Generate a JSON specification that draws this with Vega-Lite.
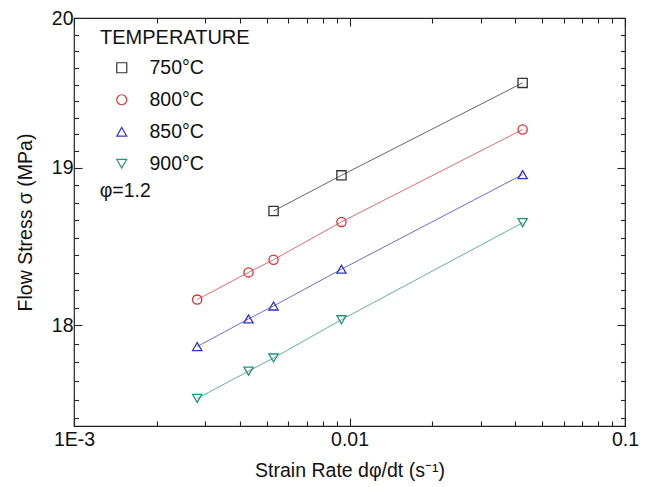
{
  "$schema": "https://vega.github.io/schema/vega-lite/v6.json",
  "width": 551,
  "height": 408,
  "autosize": {"type": "none"},
  "padding": {"left": 74, "top": 18, "right": 24, "bottom": 61},
  "background": "white",
  "config": {
    "font": "Liberation Sans",
    "view": {"stroke": "#222222", "strokeWidth": 1.2},
    "axis": {"grid": false, "domain": false, "labelFont": "Liberation Sans", "titleFont": "Liberation Sans", "labelColor": "#111111", "titleColor": "#111111", "labelFontSize": 19.5, "titleFontSize": 19.5, "titleFontWeight": "normal", "tickColor": "#222222", "tickWidth": 1.1, "labelOverlap": false, "labelFlush": false},
    "legend": {"labelFont": "Liberation Sans", "titleFont": "Liberation Sans"}
  },
  "data": {"values": [
    {"T": "750°C", "rate": 0.0053, "stress": 18.72},
    {"T": "750°C", "rate": 0.00935, "stress": 18.95},
    {"T": "750°C", "rate": 0.0425, "stress": 19.56},
    {"T": "800°C", "rate": 0.0028, "stress": 18.16},
    {"T": "800°C", "rate": 0.0043, "stress": 18.33},
    {"T": "800°C", "rate": 0.0053, "stress": 18.41},
    {"T": "800°C", "rate": 0.00935, "stress": 18.65},
    {"T": "800°C", "rate": 0.0425, "stress": 19.25},
    {"T": "850°C", "rate": 0.0028, "stress": 17.87},
    {"T": "850°C", "rate": 0.0043, "stress": 18.04},
    {"T": "850°C", "rate": 0.0053, "stress": 18.12},
    {"T": "850°C", "rate": 0.00935, "stress": 18.35},
    {"T": "850°C", "rate": 0.0425, "stress": 18.955},
    {"T": "900°C", "rate": 0.0028, "stress": 17.555},
    {"T": "900°C", "rate": 0.0043, "stress": 17.72},
    {"T": "900°C", "rate": 0.0053, "stress": 17.80},
    {"T": "900°C", "rate": 0.00935, "stress": 18.035},
    {"T": "900°C", "rate": 0.0425, "stress": 18.645}
  ]},
  "layer": [
    {
      "mark": {"type": "line", "strokeWidth": 1, "opacity": 0.75},
      "encoding": {
        "x": {"field": "rate", "type": "quantitative",
          "scale": {"type": "log", "domain": [0.001, 0.1], "nice": false},
          "axis": {"orient": "bottom", "title": "Strain Rate dφ/dt (s⁻¹)", "titlePadding": 10,
            "values": [0.001,0.002,0.003,0.004,0.005,0.006,0.007,0.008,0.009,0.01,0.02,0.03,0.04,0.05,0.06,0.07,0.08,0.09,0.1],
            "labelExpr": "datum.value == 0.001 ? '1E-3' : datum.value == 0.01 ? '0.01' : datum.value == 0.1 ? '0.1' : ''",
            "tickSize": {"condition": {"test": "datum.value == 0.001 || datum.value == 0.01 || datum.value == 0.1", "value": -8}, "value": -5},
            "labelPadding": 12}},
        "y": {"field": "stress", "type": "quantitative",
          "scale": {"type": "log", "domain": [17.39, 20], "nice": false, "zero": false},
          "axis": {"orient": "left", "title": "Flow Stress σ (MPa)", "titlePadding": 16,
            "values": [17.43742,17.54851,17.66031,17.77282,17.88605,18,18.10846,18.21757,18.32734,18.43778,18.54888,18.66065,18.77309,18.88621,19,19.10859,19.2178,19.32763,19.43809,19.54918,19.6609,19.77326,19.88626,20],
            "labelExpr": "abs(datum.value - round(datum.value)) < 0.000001 ? format(datum.value, 'd') : ''",
            "tickSize": {"condition": {"test": "abs(datum.value - round(datum.value)) < 0.000001", "value": -8}, "value": -4.5},
            "labelPadding": 9}},
        "color": {"field": "T", "type": "nominal", "title": "TEMPERATURE",
          "scale": {"domain": ["750°C", "800°C", "850°C", "900°C"], "range": ["#333333", "#d9383c", "#3c3cb4", "#2e9484"]},
          "legend": {"orient": "none", "legendX": 26, "legendY": 10, "padding": 0,
            "titleFontSize": 20, "titleFontWeight": "normal", "titleColor": "#111111", "titlePadding": 10,
            "labelFontSize": 19.5, "labelColor": "#111111", "symbolSize": 100, "symbolStrokeWidth": 1.2,
            "symbolFillColor": "transparent", "symbolOpacity": 1,
            "symbolOffset": 12, "labelOffset": 18, "rowPadding": 11}}
      }
    },
    {
      "mark": {"type": "point", "filled": false, "strokeWidth": 1.3, "opacity": 1},
      "encoding": {
        "x": {"field": "rate", "type": "quantitative",
          "axis": {"orient": "top", "title": null, "labels": false,
            "values": [0.001,0.002,0.003,0.004,0.005,0.006,0.007,0.008,0.009,0.01,0.02,0.03,0.04,0.05,0.06,0.07,0.08,0.09,0.1],
            "tickSize": {"condition": {"test": "datum.value == 0.001 || datum.value == 0.01 || datum.value == 0.1", "value": -8}, "value": -5}}},
        "y": {"field": "stress", "type": "quantitative",
          "axis": {"orient": "right", "title": null, "labels": false,
            "values": [17.43742,17.54851,17.66031,17.77282,17.88605,18,18.10846,18.21757,18.32734,18.43778,18.54888,18.66065,18.77309,18.88621,19,19.10859,19.2178,19.32763,19.43809,19.54918,19.6609,19.77326,19.88626,20],
            "tickSize": {"condition": {"test": "abs(datum.value - round(datum.value)) < 0.000001", "value": -8}, "value": -4.5}}},
        "stroke": {"field": "T", "type": "nominal",
          "scale": {"domain": ["750°C", "800°C", "850°C", "900°C"], "range": ["#333333", "#e0282e", "#3030c8", "#269080"]},
          "legend": null},
        "shape": {"field": "T", "type": "nominal",
          "scale": {"domain": ["750°C", "800°C", "850°C", "900°C"], "range": ["square", "circle", "triangle-up", "triangle-down"]},
          "legend": null},
        "size": {"value": 85}
      }
    },
    {
      "data": {"values": [{"label": "φ=1.2"}]},
      "mark": {"type": "text", "align": "left", "baseline": "middle", "fontSize": 19.5, "color": "#111111"},
      "encoding": {
        "x": {"datum": 0.001239, "type": "quantitative", "axis": null},
        "y": {"datum": 18.85, "type": "quantitative", "axis": null},
        "text": {"field": "label", "type": "nominal"}
      }
    }
  ]
}
